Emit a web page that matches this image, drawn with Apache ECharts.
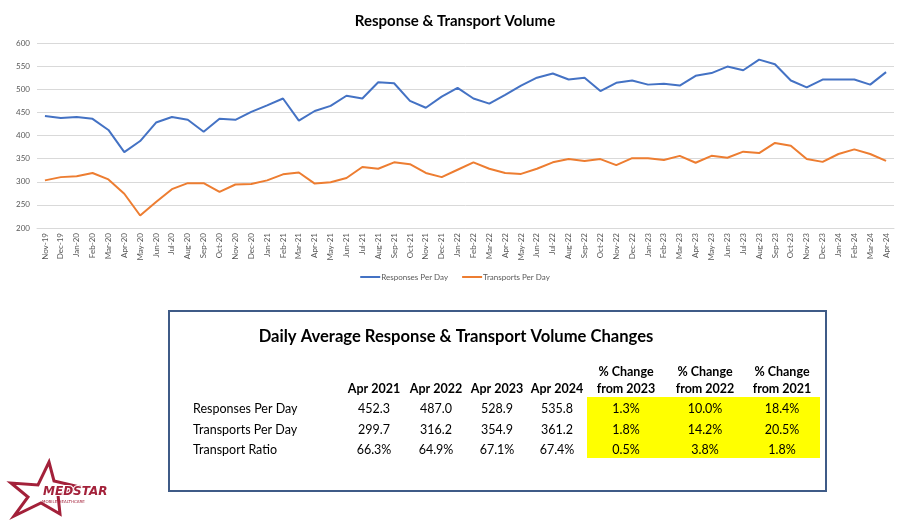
<!DOCTYPE html>
<html>
<head>
<meta charset="utf-8">
<script src="https://cdn.jsdelivr.net/npm/echarts@6/dist/echarts.min.js"></script>
<style>
html,body{margin:0;padding:0;background:#fff;}
#main{width:910px;height:523px;}
</style>
</head>
<body>
<div id="main"></div>
<script>
const months = ['Nov-19','Dec-19','Jan-20','Feb-20','Mar-20','Apr-20','May-20','Jun-20','Jul-20','Aug-20','Sep-20','Oct-20','Nov-20','Dec-20',
'Jan-21','Feb-21','Mar-21','Apr-21','May-21','Jun-21','Jul-21','Aug-21','Sep-21','Oct-21','Nov-21','Dec-21',
'Jan-22','Feb-22','Mar-22','Apr-22','May-22','Jun-22','Jul-22','Aug-22','Sep-22','Oct-22','Nov-22','Dec-22',
'Jan-23','Feb-23','Mar-23','Apr-23','May-23','Jun-23','Jul-23','Aug-23','Sep-23','Oct-23','Nov-23','Dec-23',
'Jan-24','Feb-24','Mar-24','Apr-24'];
const responsesPerDay = [442,438,440,436,412,364,388,428,440,434,408,436,434,451,
465,480,432,453,464,486,480,515,513,475,460,484,
503,480,469,488,508,525,534,521,525,496,514,519,
510,512,508,529,535,549,541,564,554,519,504,521,
521,521,510,537];
const transportsPerDay = [303,310,312,319,305,274,227,256,284,297,297,278,294,295,
303,316,320,296,299,308,332,328,342,338,319,310,
326,342,328,319,317,328,342,349,345,349,336,351,
351,347,356,341,356,352,365,362,384,378,349,343,
360,370,360,345];

const tableCols = ['Apr 2021','Apr 2022','Apr 2023','Apr 2024'];
const changeColsTop = ['% Change','% Change','% Change'];
const changeColsBottom = ['from 2023','from 2022','from 2021'];
const rowLabels = ['Responses Per Day','Transports Per Day','Transport Ratio'];
const aprValues = [[452.3,487.0,528.9,535.8],[299.7,316.2,354.9,361.2],[66.3,64.9,67.1,67.4]];
const changeValues = [[1.3,10.0,18.4],[1.8,14.2,20.5],[0.5,3.8,1.8]];
const rowIsPercent = [false,false,true];

const chart = echarts.init(document.getElementById('main'));
const FONT = 'Lato, "Open Sans", sans-serif';

// table graphics built from arrays
const colX = [374,436,497,557];
const chgX = [626,705,782];
const rowY = [409,430,450];
const g = [];
g.push({type:'rect', shape:{x:169,y:311,width:657,height:180}, style:{fill:'#fff',stroke:'#3f5b87',lineWidth:2}, z:1});
g.push({type:'rect', shape:{x:587,y:397,width:233,height:61}, style:{fill:'#ffff00'}, z:2});
g.push({type:'text', style:{x:456,y:337,text:'Daily Average Response & Transport Volume Changes',fill:'#000',font:'bold 16.6px '+FONT,textAlign:'center',textVerticalAlign:'middle'}, z:3});
tableCols.forEach((c,i)=>g.push({type:'text', style:{x:colX[i],y:389,text:c,fill:'#000',font:'bold 12.5px '+FONT,textAlign:'center',textVerticalAlign:'middle'}, z:3}));
changeColsTop.forEach((c,i)=>{
  g.push({type:'text', style:{x:chgX[i],y:372,text:c,fill:'#000',font:'bold 12.5px '+FONT,textAlign:'center',textVerticalAlign:'middle'}, z:3});
  g.push({type:'text', style:{x:chgX[i],y:389,text:changeColsBottom[i],fill:'#000',font:'bold 12.5px '+FONT,textAlign:'center',textVerticalAlign:'middle'}, z:3});
});
rowLabels.forEach((r,ri)=>{
  g.push({type:'text', style:{x:193,y:rowY[ri],text:r,fill:'#000',font:'12.5px '+FONT,textAlign:'left',textVerticalAlign:'middle'}, z:3});
  aprValues[ri].forEach((v,ci)=>g.push({type:'text', style:{x:colX[ci],y:rowY[ri],text:v.toFixed(1)+(rowIsPercent[ri]?'%':''),fill:'#000',font:'12.5px '+FONT,textAlign:'center',textVerticalAlign:'middle'}, z:3}));
  changeValues[ri].forEach((v,ci)=>g.push({type:'text', style:{x:chgX[ci],y:rowY[ri],text:v.toFixed(1)+'%',fill:'#000',font:'12.5px '+FONT,textAlign:'center',textVerticalAlign:'middle'}, z:3}));
});
// logo
g.push({type:'polygon', shape:{points:[[49,462],[54,481],[80,487],[58,495],[60,514],[41,503],[14,516],[28,497],[11,483],[38,485]]},
  style:{fill:'#fff',stroke:'#a3213a',lineWidth:3,lineJoin:'miter'}, z:3});
g.push({type:'text', style:{x:43,y:492,text:'MEDSTAR',fill:'#a3213a',font:'italic 900 12px "DejaVu Sans", sans-serif',textAlign:'left',textVerticalAlign:'middle',stroke:'#fff',lineWidth:2}, z:4});
g.push({type:'text', style:{x:42,y:502,text:'MOBILE HEALTHCARE',fill:'#a3213a',font:'4px "DejaVu Sans", sans-serif',textAlign:'left',textVerticalAlign:'middle'}, z:4});

chart.setOption({
  backgroundColor:'#fff',
  animation:false,
  title:{text:'Response & Transport Volume', left:'center', top:9,
    textStyle:{fontFamily:FONT, fontWeight:'bold', fontSize:15, color:'#000'}},
  grid:{left:37, right:16, top:43, bottom:295, containLabel:false},
  legend:{top:268, left:'center', itemWidth:20, itemHeight:2, itemGap:14, icon:'rect',
    textStyle:{fontFamily:FONT, fontSize:8, color:'#595959', padding:[0,0,0,-4]},
    data:['Responses Per Day','Transports Per Day']},
  xAxis:{type:'category', data:months, boundaryGap:true,
    axisLine:{lineStyle:{color:'#d9d9d9'}}, axisTick:{show:false},
    axisLabel:{rotate:90, interval:0, fontSize:8, color:'#595959', fontFamily:FONT, margin:5}},
  yAxis:{type:'value', min:200, max:600, interval:50,
    axisLine:{show:false}, axisTick:{show:false},
    splitLine:{lineStyle:{color:'#d9d9d9', width:1}},
    axisLabel:{fontSize:8, color:'#595959', fontFamily:FONT, margin:7}},
  series:[
    {name:'Responses Per Day', type:'line', data:responsesPerDay, showSymbol:false, symbol:'none',
      lineStyle:{color:'#4472c4', width:2}, itemStyle:{color:'#4472c4'}},
    {name:'Transports Per Day', type:'line', data:transportsPerDay, showSymbol:false, symbol:'none',
      lineStyle:{color:'#ed7d31', width:2}, itemStyle:{color:'#ed7d31'}}
  ],
  graphic:g
});
</script>
</body>
</html>
